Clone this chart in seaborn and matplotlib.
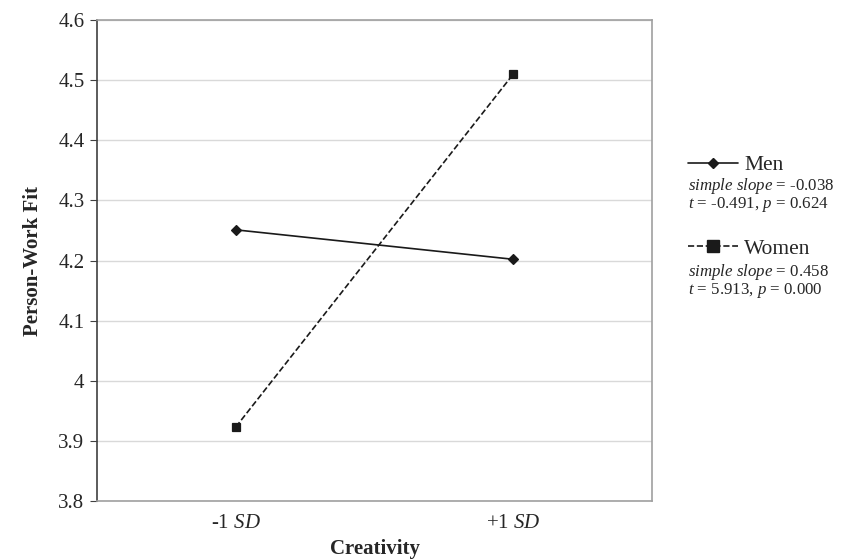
import pandas as pd
import matplotlib.pyplot as plt
import seaborn as sns
from matplotlib.lines import Line2D

# data
levels = ["-1 SD", "+1 SD"]
tick_labels = [r"-1 $\it{SD}$", r"+1 $\it{SD}$"]
men = [4.251, 4.202]
women = [3.923, 4.510]
groups = ["Men", "Women"]
men_stats = [r"$\it{simple\ slope}$ = -0.038", r"$\it{t}$ = -0.491, $\it{p}$ = 0.624"]
women_stats = [r"$\it{simple\ slope}$ = 0.458", r"$\it{t}$ = 5.913, $\it{p}$ = 0.000"]

df = pd.DataFrame({
    "Creativity": levels * 2,
    "Fit": men + women,
    "Group": [groups[0]] * 2 + [groups[1]] * 2,
})

sns.set_style("white")
plt.rcParams["font.family"] = ["Liberation Serif", "DejaVu Serif"]
plt.rcParams["mathtext.fontset"] = "custom"
plt.rcParams["mathtext.rm"] = "Liberation Serif"
plt.rcParams["mathtext.it"] = "Liberation Serif:italic"

fig = plt.figure(figsize=(8.41, 5.6), dpi=100)
ax = fig.add_axes([97 / 841, 1 - 501 / 560, 555 / 841, 481 / 560])

sns.pointplot(data=df, x="Creativity", y="Fit", hue="Group", order=levels,
              palette=["#1a1a1a", "#1a1a1a"], markers=["D", "s"],
              linestyles=["-", "--"], ax=ax, legend=False,
              markersize=6, linewidth=1.2)
# marker sizes differ a bit in the original
ax.lines[0].set_markersize(5)
ax.lines[1].set_markersize(8)

ax.set_xlim(-0.5, 1.5)
ax.set_ylim(3.8, 4.6)
ax.set_yticks([3.8, 3.9, 4.0, 4.1, 4.2, 4.3, 4.4, 4.5, 4.6])
ax.set_yticklabels(["3.8", "3.9", "4", "4.1", "4.2", "4.3", "4.4", "4.5", "4.6"])
ax.set_xticks([0, 1])
ax.set_xticklabels(tick_labels)
ax.yaxis.grid(True, color="#d9d9d9", linewidth=1)
ax.set_axisbelow(True)

for side in ["top", "right", "bottom"]:
    ax.spines[side].set_color("#a0a0a0")
    ax.spines[side].set_linewidth(1.2)
ax.spines["left"].set_color("#404040")
ax.spines["left"].set_linewidth(1.2)

ax.tick_params(axis="y", left=True, length=5, color="#404040", labelsize=15, pad=4)
ax.tick_params(axis="x", bottom=False, labelsize=15, pad=6)

ax.set_xlabel("Creativity", fontsize=15, fontweight="bold", labelpad=4)
ax.set_ylabel("Person-Work Fit", fontsize=15, fontweight="bold", labelpad=11)

handles = [
    Line2D([], [], color="#1a1a1a", linestyle="-", marker="D", markersize=5, linewidth=1.2),
    Line2D([], [], color="#1a1a1a", linestyle="--", marker="s", markersize=8, linewidth=1.2),
]
fig.legend(handles, groups, loc="upper left", bbox_to_anchor=(688 / 841, 1 - 155 / 560),
           frameon=False, fontsize=15.5, handlelength=2.3, handletextpad=0.3,
           labelspacing=2.95, borderpad=0, borderaxespad=0)

for i, line in enumerate(men_stats):
    fig.text(688 / 841, 1 - (186 + 18 * i) / 560, line, fontsize=12.2, va="center")
for i, line in enumerate(women_stats):
    fig.text(688 / 841, 1 - (272 + 18 * i) / 560, line, fontsize=12.2, va="center")

fig.savefig("out.png", dpi=100)
